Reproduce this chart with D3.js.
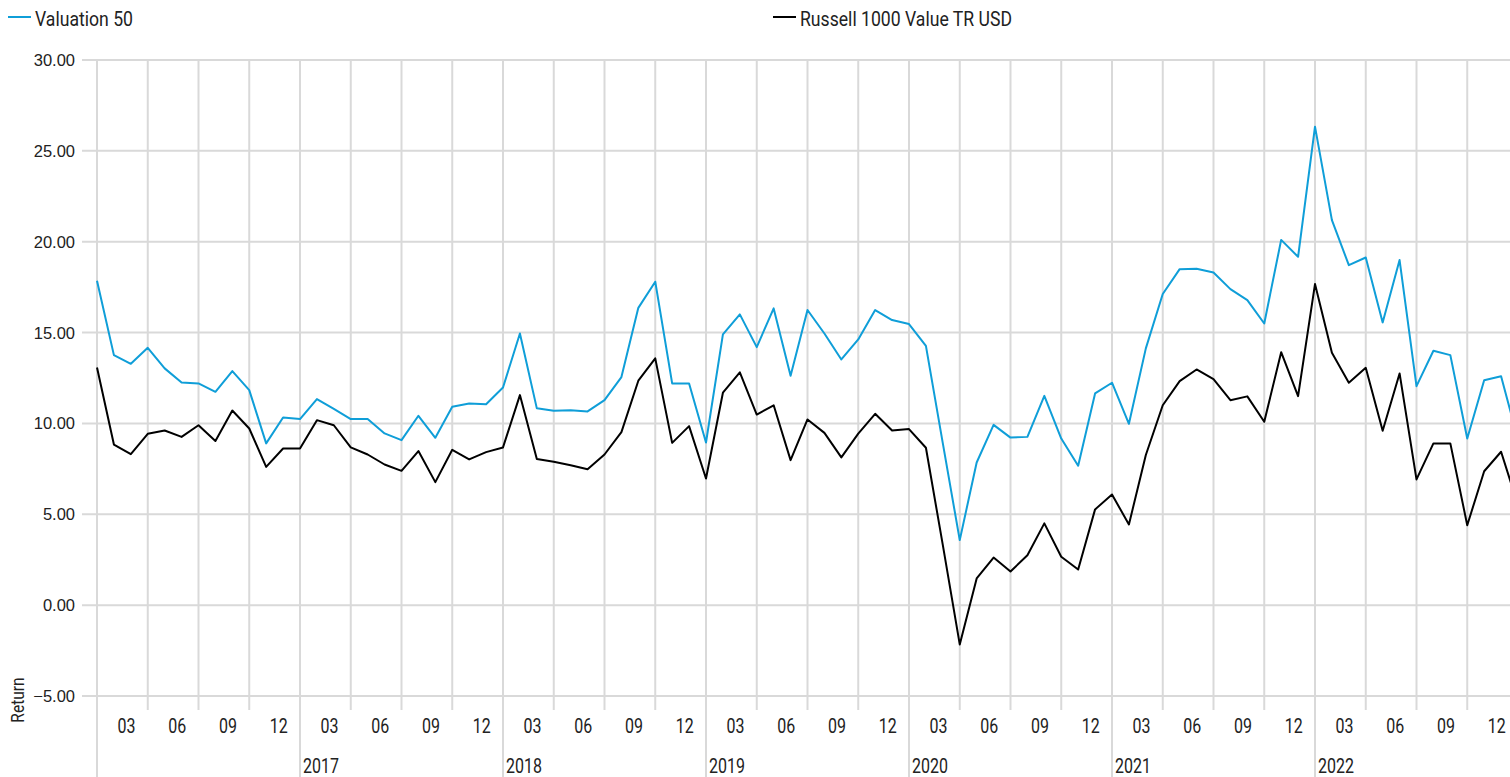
<!DOCTYPE html>
<html>
<head>
<meta charset="utf-8">
<script src="https://cdn.jsdelivr.net/npm/d3@7"></script>
<style>
  html, body { margin: 0; padding: 0; background: #fff; }
  svg { display: block; overflow: hidden; }
</style>
</head>
<body>
<svg id="chart" width="1510" height="777"></svg>
<script>
// monthly points, Dec 2015 .. Dec 2022
const months = d3.timeMonth.range(new Date(2015, 11, 1), new Date(2023, 0, 1));

const valuation50 = [
  17.85, 13.76, 13.28, 14.16, 13.03, 12.25, 12.2, 11.74, 12.88, 11.83,
  8.9, 10.33, 10.24, 11.34, 10.8, 10.24, 10.24, 9.45, 9.08, 10.42,
  9.21, 10.92, 11.1, 11.06, 11.98, 14.95, 10.83, 10.7, 10.73, 10.66,
  11.28, 12.55, 16.36, 17.8, 12.2, 12.2, 8.95, 14.9, 16.0, 14.2,
  16.33, 12.62, 16.24, 14.95, 13.52, 14.62, 16.24, 15.69, 15.47, 14.27,
  8.9, 3.58, 7.85, 9.92, 9.22, 9.26, 11.52, 9.17, 7.67, 11.65,
  12.24, 9.98, 14.13, 17.12, 18.49, 18.51, 18.31, 17.39, 16.79, 15.5,
  20.1, 19.17, 26.33, 21.19, 18.71, 19.13, 15.56, 18.99, 12.05, 14.0,
  13.76, 9.17, 12.38, 12.6, 9.1
];

const russell1000Value = [
  13.08, 8.84, 8.31, 9.43, 9.61, 9.26, 9.9, 9.03, 10.71, 9.72,
  7.61, 8.62, 8.62, 10.18, 9.9, 8.68, 8.29, 7.74, 7.39, 8.48,
  6.77, 8.55, 8.02, 8.42, 8.68, 11.56, 8.04, 7.89, 7.7, 7.48,
  8.29, 9.52, 12.35, 13.58, 8.93, 9.85, 6.97, 11.69, 12.81, 10.49,
  11.0, 7.98, 10.22, 9.48, 8.13, 9.44, 10.53, 9.61, 9.69, 8.66,
  3.3, -2.16, 1.47, 2.62, 1.85, 2.75, 4.5, 2.66, 1.96, 5.27,
  6.09, 4.44, 8.26, 11.0, 12.33, 12.97, 12.44, 11.28, 11.49, 10.09,
  13.92, 11.5, 17.67, 13.89, 12.24, 13.06, 9.6, 12.75, 6.92, 8.9,
  8.9, 4.4, 7.37, 8.44, 5.5
];

const seriesNames = ["Valuation 50", "Russell 1000 Value TR USD"];
const seriesColors = ["#0f9ed8", "#000000"];
const yTicks = [-5, 0, 5, 10, 15, 20, 25, 30];
const quarterLabels = ["03", "06", "09", "12"];

const svg = d3.select("#chart");
const condensed = 0.82;
const gridColor = "#d9d9d9";

const x = d3.scaleLinear()
  .domain([0, months.length - 1])
  .range([97, 1518]);

const y = d3.scaleLinear()
  .domain([-5, 30])
  .range([696, 60]);

// horizontal grid + y labels
svg.selectAll(".hgrid")
  .data(yTicks)
  .enter()
  .append("line")
  .attr("x1", 82)
  .attr("x2", 1520)
  .attr("y1", d => y(d))
  .attr("y2", d => y(d))
  .attr("stroke", gridColor)
  .attr("stroke-width", 2);

svg.selectAll(".ylabel")
  .data(yTicks)
  .enter()
  .append("text")
  .attr("x", 75)
  .attr("y", d => y(d))
  .attr("dy", "0.36em")
  .attr("text-anchor", "end")
  .attr("font-family", "Liberation Sans, Arial, sans-serif")
  .attr("font-size", 16.5)
  .attr("fill", "#222")
  .text(d => d3.format(".2f")(d));

// vertical grid: quarters short, years long
const quarterIdx = d3.range(0, months.length, 3);
svg.selectAll(".vgrid")
  .data(quarterIdx)
  .enter()
  .append("line")
  .attr("x1", d => x(d))
  .attr("x2", d => x(d))
  .attr("y1", 59)
  .attr("y2", d => d % 12 === 0 ? 777 : 710)
  .attr("stroke", gridColor)
  .attr("stroke-width", 2);

function condensedText(sel, tx, ty) {
  return sel.attr("transform", (d, i) => `translate(${tx(d, i)},${ty(d, i)}) scale(${condensed},1)`)
    .attr("font-family", "Roboto, sans-serif")
    .attr("fill", "#222");
}

// month labels, centred in each quarter band
const bands = d3.range(0, (months.length - 1) / 3);
condensedText(
  svg.selectAll(".mlabel").data(bands).enter().append("text"),
  d => (x(d * 3) + x(d * 3 + 3)) / 2 + 4,
  () => 733
)
  .attr("text-anchor", "middle")
  .attr("font-size", 19.5)
  .text(d => quarterLabels[d % 4]);

// year labels
const yearIdx = d3.range(12, months.length - 1, 12);
condensedText(
  svg.selectAll(".ylab").data(yearIdx).enter().append("text"),
  d => x(d) + 3,
  () => 773
)
  .attr("font-size", 19.5)
  .text(d => months[d].getFullYear() + 1);

// axis title
svg.append("text")
  .attr("transform", `translate(24,700) rotate(-90) scale(${condensed},1)`)
  .attr("text-anchor", "middle")
  .attr("font-family", "Roboto, sans-serif")
  .attr("font-size", 19)
  .attr("fill", "#222")
  .text("Return");

// lines
const line = d3.line()
  .x((d, i) => x(i))
  .y(d => y(d));

[valuation50, russell1000Value].forEach((values, k) => {
  svg.append("path")
    .datum(values)
    .attr("d", line)
    .attr("fill", "none")
    .attr("stroke", seriesColors[k])
    .attr("stroke-width", 2)
    .attr("stroke-linejoin", "round");
});

// legend
const legendX = [8, 773];
const legend = svg.selectAll(".legend")
  .data(seriesNames)
  .enter()
  .append("g")
  .attr("transform", (d, i) => `translate(${legendX[i]},0)`);

legend.append("line")
  .attr("x1", 0)
  .attr("x2", 23)
  .attr("y1", 17)
  .attr("y2", 17)
  .attr("stroke", (d, i) => seriesColors[i])
  .attr("stroke-width", 2);

legend.append("text")
  .attr("transform", `translate(27,26) scale(0.84,1)`)
  .attr("font-family", "Roboto, sans-serif")
  .attr("font-size", 21)
  .attr("fill", "#222")
  .text(d => d);
</script>
</body>
</html>
